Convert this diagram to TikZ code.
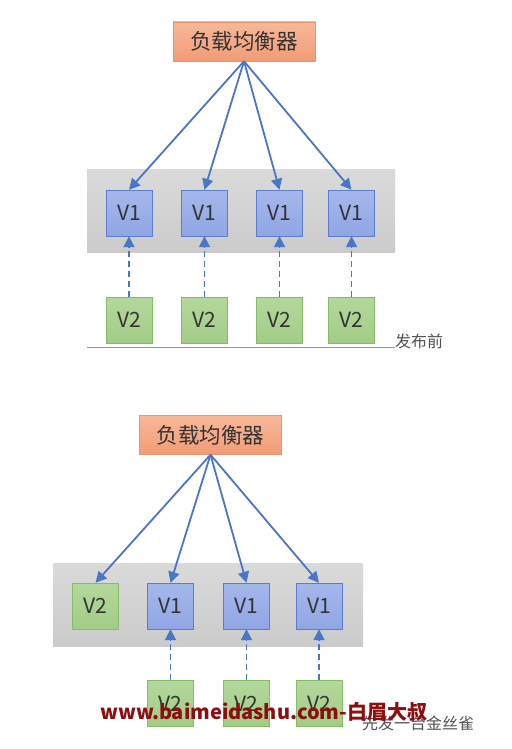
\documentclass[tikz,border=0pt]{standalone}
\usepackage{fontspec}
\setmainfont{Noto Sans CJK SC}
\usetikzlibrary{arrows.meta}

\definecolor{lbfilltop}{HTML}{F8B898}
\definecolor{lbfillbot}{HTML}{F29B76}
\definecolor{lbline}{HTML}{E8956F}
\definecolor{vonetop}{HTML}{A5B8EC}
\definecolor{vonebot}{HTML}{90A6E4}
\definecolor{voneline}{HTML}{5B7BD5}
\definecolor{vtwotop}{HTML}{B3D89C}
\definecolor{vtwobot}{HTML}{A2CC86}
\definecolor{vtwoline}{HTML}{86BC66}
\definecolor{bandtop}{HTML}{DADADA}
\definecolor{bandbot}{HTML}{CBCBCB}
\definecolor{arrowblue}{HTML}{4A76C8}
\definecolor{textgray}{HTML}{333333}
\definecolor{markred}{HTML}{8E0E10}

\begin{document}
\begin{tikzpicture}[x=1pt,y=-1pt]

\tikzset{
  lb node/.style={
    draw=lbline, top color=lbfilltop, bottom color=lbfillbot,
    minimum width=142pt, minimum height=39pt, inner sep=0pt,
    font=\fontsize{21.5}{21.5}\selectfont, text=textgray,
  },
  band node/.style={
    top color=bandtop, bottom color=bandbot, draw=none,
    inner sep=0pt,
  },
  vone node/.style={
    draw=voneline, top color=vonetop, bottom color=vonebot,
    minimum width=46pt, minimum height=46pt, inner sep=0pt,
    font=\fontsize{21}{21}\selectfont, text=textgray,
  },
  vtwo node/.style={
    draw=vtwoline, top color=vtwotop, bottom color=vtwobot,
    minimum width=46pt, minimum height=46pt, inner sep=0pt,
    font=\fontsize{21}{21}\selectfont, text=textgray,
  },
  route/.style={
    draw=arrowblue, line width=1.8pt,
    -{Triangle[length=11pt,width=11pt]},
  },
  switch/.style={
    draw=arrowblue, line width=1.8pt, dash pattern=on 6pt off 4pt,
    -{Triangle[length=11pt,width=11pt]},
  },
  caption/.style={
    font=\fontsize{16}{16}\selectfont, text=textgray!85, inner sep=0pt,
  },
}

\useasboundingbox[fill=white] (0,0) rectangle (511,749);

% Before release
\node[band node, minimum width=308pt, minimum height=83pt] (bandA) at (241,210.5) {};
\node[lb node] (lbA) at (244,41.5) {负载均衡器};

\node[vone node] (a1) at (129,213) {V1};
\node[vone node] (a2) at (204.5,213) {V1};
\node[vone node] (a3) at (279.5,213) {V1};
\node[vone node] (a4) at (351.5,213) {V1};

\node[vtwo node] (b1) at (129,320) {V2};
\node[vtwo node] (b2) at (204.5,320) {V2};
\node[vtwo node] (b3) at (279.5,320) {V2};
\node[vtwo node] (b4) at (351.5,320) {V2};

\coordinate (lineA) at (87,347);
\node[caption, anchor=south west] (capA) at (395,349) {发布前};
\draw[gray!80, line width=0.8pt] (lineA) -- (capA.south west |- lineA);

% Edges
\draw[route] (lbA.south) -- (a1.north);
\draw[route] (lbA.south) -- (a2.north);
\draw[route] (lbA.south) -- (a3.north);
\draw[route] (lbA.south) -- (a4.north);

\draw[switch] (b1.north) -- (a1.south);
\draw[switch] (b2.north) -- (a2.south);
\draw[switch] (b3.north) -- (a3.south);
\draw[switch] (b4.north) -- (a4.south);

% Canary release
\node[band node, minimum width=310pt, minimum height=83pt] (bandB) at (208,604.5) {};
\node[lb node] (lbB) at (210.5,435) {负载均衡器};

\node[vtwo node] (c1) at (95.5,606) {V2};
\node[vone node] (c2) at (170.5,606) {V1};
\node[vone node] (c3) at (246.5,606) {V1};
\node[vone node] (c4) at (319,606) {V1};

\node[vtwo node] (d2) at (170.5,703.5) {V2};
\node[vtwo node] (d3) at (246.5,703.5) {V2};
\node[vtwo node] (d4) at (319,703.5) {V2};

\node[caption, anchor=west] (capB) at (362,723) {先发一台金丝雀};

% Edges
\draw[route] (lbB.south) -- (c1.north);
\draw[route] (lbB.south) -- (c2.north);
\draw[route] (lbB.south) -- (c3.north);
\draw[route] (lbB.south) -- (c4.north);

\draw[switch] (d2.north) -- (c2.south);
\draw[switch] (d3.north) -- (c3.south);
\draw[switch] (d4.north) -- (c4.south);

% Watermark
\node[font=\fontsize{20}{20}\selectfont\bfseries, text=markred, inner sep=0pt, anchor=west] (mark) at (100,712) {www.baimeidashu.com-白眉大叔};

\end{tikzpicture}
\end{document}
